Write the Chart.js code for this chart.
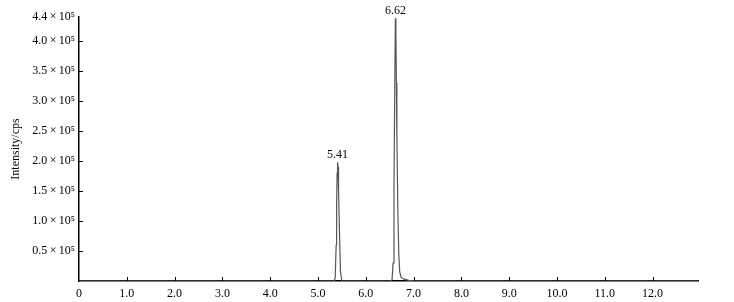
<!DOCTYPE html>
<html>
<head>
<meta charset="utf-8">
<script src="https://cdn.jsdelivr.net/npm/chart.js@4/dist/chart.umd.min.js"></script>
<style>
  html, body { margin: 0; padding: 0; background: #fff; }
  #wrap { width: 734px; height: 302px; }
</style>
</head>
<body>
<div id="wrap"><canvas id="chromChart"></canvas></div>
<script>
// retention time (min) and intensity (x1e5 cps)
const retentionTimes = [0, 5.34, 5.36, 5.38, 5.39, 5.40, 5.41, 5.42, 5.43, 5.45, 5.47, 5.50,
  6.52, 6.55, 6.57, 6.59, 6.61, 6.62, 6.63, 6.64, 6.65, 6.67, 6.69, 6.71, 6.74, 6.80, 6.90, 7.05, 12.95];
const intensities = [0, 0, 0.05, 0.6, 1.3, 1.8, 1.98, 1.9, 1.5, 0.8, 0.15, 0,
  0, 0.02, 0.3, 1.6, 3.6, 4.38, 4.1, 3.3, 2.4, 1.2, 0.45, 0.15, 0.06, 0.03, 0.01, 0, 0];

const peakTimes = [5.41, 6.62];
const peakHeights = [1.98, 4.38];
const peakLabels = ['5.41', '6.62'];

const xTicks = [0, 1, 2, 3, 4, 5, 6, 7, 8, 9, 10, 11, 12];
const yTicks = [0.5, 1.0, 1.5, 2.0, 2.5, 3.0, 3.5, 4.0, 4.4];

const FONT = '"Liberation Serif", "DejaVu Serif", serif';

const points = retentionTimes.map((t, i) => ({ x: t, y: intensities[i] }));

// ticks drawn inward + peak labels
const extras = {
  id: 'extras',
  afterDraw(chart) {
    const ctx = chart.ctx;
    const xs = chart.scales.x, ys = chart.scales.y;
    const area = chart.chartArea;
    ctx.save();
    ctx.strokeStyle = '#000';
    ctx.lineWidth = 1;
    ctx.beginPath();
    xTicks.forEach(v => {
      if (v === 0) return;
      const px = Math.round(xs.getPixelForValue(v)) + 0.5;
      ctx.moveTo(px, area.bottom);
      ctx.lineTo(px, area.bottom - 4);
    });
    yTicks.forEach(v => {
      if (v === 4.4) return;
      const py = Math.round(ys.getPixelForValue(v)) + 0.5;
      ctx.moveTo(area.left, py);
      ctx.lineTo(area.left + 4, py);
    });
    ctx.stroke();

    ctx.fillStyle = '#000';
    ctx.font = '12px ' + FONT;
    ctx.textAlign = 'center';
    ctx.textBaseline = 'bottom';
    peakTimes.forEach((t, i) => {
      const px = xs.getPixelForValue(t);
      const py = ys.getPixelForValue(peakHeights[i]);
      ctx.fillText(peakLabels[i], px, py - 1);
    });
    ctx.restore();
  }
};

const bg = {
  id: 'bg',
  beforeDraw(chart) {
    const ctx = chart.ctx;
    ctx.save();
    ctx.fillStyle = '#fff';
    ctx.fillRect(0, 0, chart.width, chart.height);
    ctx.restore();
  }
};

new Chart(document.getElementById('chromChart'), {
  type: 'line',
  data: {
    datasets: [{
      data: points,
      borderColor: '#555',
      borderWidth: 1.2,
      pointRadius: 0,
      tension: 0,
      fill: false
    }]
  },
  options: {
    responsive: true,
    maintainAspectRatio: false,
    animation: false,
    layout: { padding: { left: 0, right: 36, top: 17, bottom: 0 } },
    plugins: { legend: { display: false }, tooltip: { enabled: false } },
    scales: {
      x: {
        type: 'linear',
        min: 0,
        max: 12.95,
        grid: { display: false, drawTicks: false },
        border: { display: true, color: '#000', width: 1.5 },
        afterBuildTicks: (scale) => { scale.ticks = xTicks.map(v => ({ value: v })); },
        afterFit: (scale) => { scale.height = 21; },
        ticks: {
          color: '#000',
          padding: 6,
          maxRotation: 0,
          font: { family: FONT, size: 12 },
          callback: (v) => v === 0 ? '0' : v.toFixed(1)
        }
      },
      y: {
        type: 'linear',
        min: 0,
        max: 4.4,
        grid: { display: false, drawTicks: false },
        border: { display: true, color: '#000', width: 1.5 },
        afterBuildTicks: (scale) => { scale.ticks = yTicks.map(v => ({ value: v })); },
        afterFit: (scale) => { scale.width = 79; },
        title: {
          display: true,
          text: 'Intensity/cps',
          color: '#000',
          padding: { top: 9, bottom: 0 },
          font: { family: FONT, size: 12 }
        },
        ticks: {
          color: '#000',
          padding: 4,
          font: { family: FONT, size: 12 },
          callback: (v) => v.toFixed(1) + '\u2009\u00d7\u200910\u2075'
        }
      }
    }
  },
  plugins: [bg, extras]
});
</script>
</body>
</html>
